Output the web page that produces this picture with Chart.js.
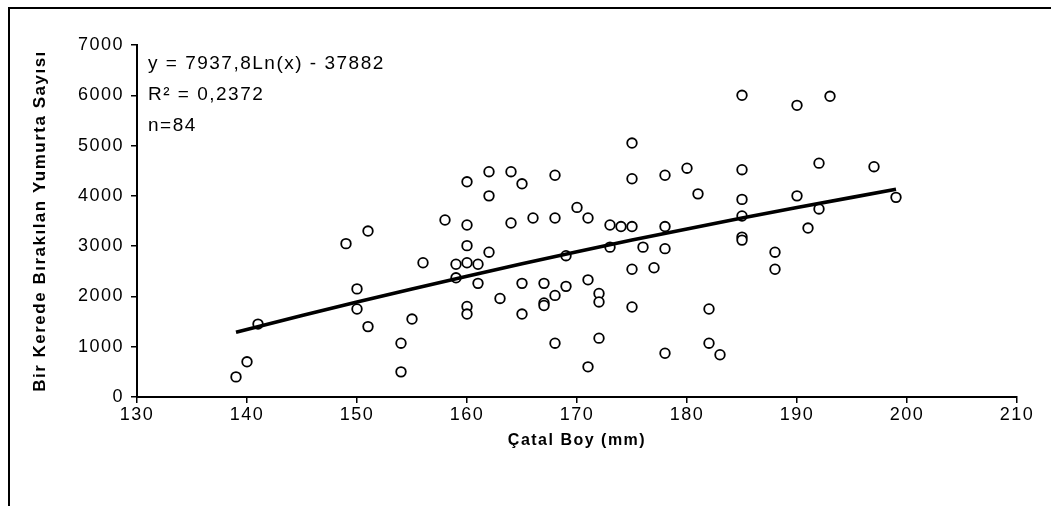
<!DOCTYPE html>
<html>
<head>
<meta charset="utf-8">
<script src="https://cdn.jsdelivr.net/npm/chart.js@4.4.1/dist/chart.umd.min.js"></script>
<style>
  html, body { margin: 0; padding: 0; background: #fff; }
  #wrap { position: relative; width: 1051px; height: 506px; overflow: hidden; }
  #frame { position: absolute; left: 8px; top: 7px; right: -10px; bottom: -10px;
           border-top: 2px solid #000; border-left: 2px solid #000; }
  canvas { position: absolute; left: 0; top: 0; }
</style>
</head>
<body>
<div id="wrap">
  <div id="frame"></div>
  <canvas id="catalboy" width="1051" height="506"></canvas>
</div>
<script>
/* CATAL BOY - YUMURTA SAYISI */

const boy = [
  139, 140, 141, 149, 150, 150, 151, 151, 154, 154,
  155, 156, 158, 159, 159, 160, 160, 160, 160, 160,
  160, 161, 161, 162, 162, 162, 163, 164, 164, 165,
  165, 165, 166, 167, 167, 167, 168, 168, 168, 168,
  169, 169, 170, 171, 171, 171, 172, 172, 172, 173,
  173, 174, 175, 175, 175, 175, 175, 176, 177, 178,
  178, 178, 178, 180, 181, 182, 182, 183, 185, 185,
  185, 185, 185, 185, 188, 188, 190, 190, 191, 192,
  192, 193, 197, 199
];

const yumurta = [
  400, 700, 1450, 3050, 2150, 1750, 3300, 1400, 1070, 500,
  1550, 2670, 3520, 2640, 2370, 4280, 3420, 3010, 2670, 1800,
  1650, 2640, 2260, 4480, 4000, 2880, 1960, 4480, 3460, 4240,
  2260, 1650, 3560, 2260, 1870, 1820, 4410, 3560, 2020, 1070,
  2810, 2200, 3770, 3560, 2330, 600, 2060, 1890, 1170, 3420,
  2980, 3390, 5050, 4340, 3390, 2540, 1790, 2980, 2570, 4410,
  3390, 2950, 870, 4550, 4040, 1750, 1070, 840, 6000, 4520,
  3930, 3600, 3180, 3120, 2880, 2540, 5800, 4000, 3360, 4650,
  3740, 5980, 4580, 3970
];

// trend cizgisi
const trendBoy = [139, 145, 150, 155, 160, 165, 170, 175, 180, 185, 190, 195, 199];
const trendYumurta = [1290, 1620, 1890, 2150, 2400, 2650, 2890, 3120, 3340, 3560, 3770, 3970, 4130];

const notlar = ['y = 7937,8Ln(x) - 37882', 'R\u00B2 = 0,2372', 'n=84'];

const noktalar = boy.map((b, i) => ({ x: b, y: yumurta[i] }));
const trend = trendBoy.map((b, i) => ({ x: b, y: trendYumurta[i] }));

Chart.defaults.font.family = '"Liberation Sans", Arial, sans-serif';
Chart.defaults.color = '#000';

const aralik = {
  id: 'aralik',
  beforeDraw(chart) {
    chart.ctx.letterSpacing = '1.5px';
  },
  afterDraw(chart) {
    const ctx = chart.ctx;
    const area = chart.chartArea;
    ctx.save();
    ctx.font = '19px "Liberation Sans", Arial, sans-serif';
    ctx.fillStyle = '#000';
    ctx.textAlign = 'left';
    ctx.textBaseline = 'middle';
    ctx.letterSpacing = '1.5px';
    notlar.forEach((s, i) => ctx.fillText(s, area.left + 11, area.top + 19 + i * 31));
    ctx.restore();
  }
};

const configboy = {
  type: 'scatter',
  data: {
    datasets: [{
      label: 'Trend',
      type: 'line',
      data: trend,
      borderColor: '#000',
      borderWidth: 3.6,
      pointRadius: 0,
      fill: false,
      order: 0
    }, {
      label: 'Yumurta',
      data: noktalar,
      pointStyle: 'circle',
      pointRadius: 4.8,
      pointBorderWidth: 1.8,
      borderColor: '#000',
      backgroundColor: '#fff',
      order: 1
    }]
  },
  options: {
    responsive: false,
    animation: false,
    layout: { padding: { left: 0, top: 45, right: 34, bottom: 0 } },
    plugins: {
      legend: { display: false },
      tooltip: { enabled: false }
    },
    scales: {
      x: {
        type: 'linear',
        min: 130,
        max: 210,
        afterFit(scale) { scale.height = 109; },
        ticks: { stepSize: 10, padding: 1, font: { size: 18 }, maxRotation: 0,
                 callback: (v) => String(v) },
        grid: { drawOnChartArea: false, drawTicks: true, tickLength: 6, color: '#000', lineWidth: 1.5 },
        border: { display: true, color: '#000', width: 2 },
        title: {
          display: true,
          text: 'Çatal Boy (mm)',
          font: { size: 16, weight: 'bold' },
          padding: { top: 0, bottom: 56 }
        }
      },
      y: {
        min: 0,
        max: 7000,
        afterFit(scale) { scale.width = 137; },
        ticks: { stepSize: 1000, padding: 7, font: { size: 18 },
                 callback: (v) => String(v) },
        grid: { drawOnChartArea: false, drawTicks: true, tickLength: 6, color: '#000', lineWidth: 1.5 },
        border: { display: true, color: '#000', width: 2 },
        title: {
          display: true,
          text: 'Bir Kerede Bırakılan Yumurta Sayısı',
          font: { size: 17, weight: 'bold' },
          padding: { top: 30, bottom: 0 }
        }
      }
    }
  },
  plugins: [aralik]
};

const chartboy = new Chart(
  document.getElementById('catalboy'),
  configboy
);
</script>
</body>
</html>
